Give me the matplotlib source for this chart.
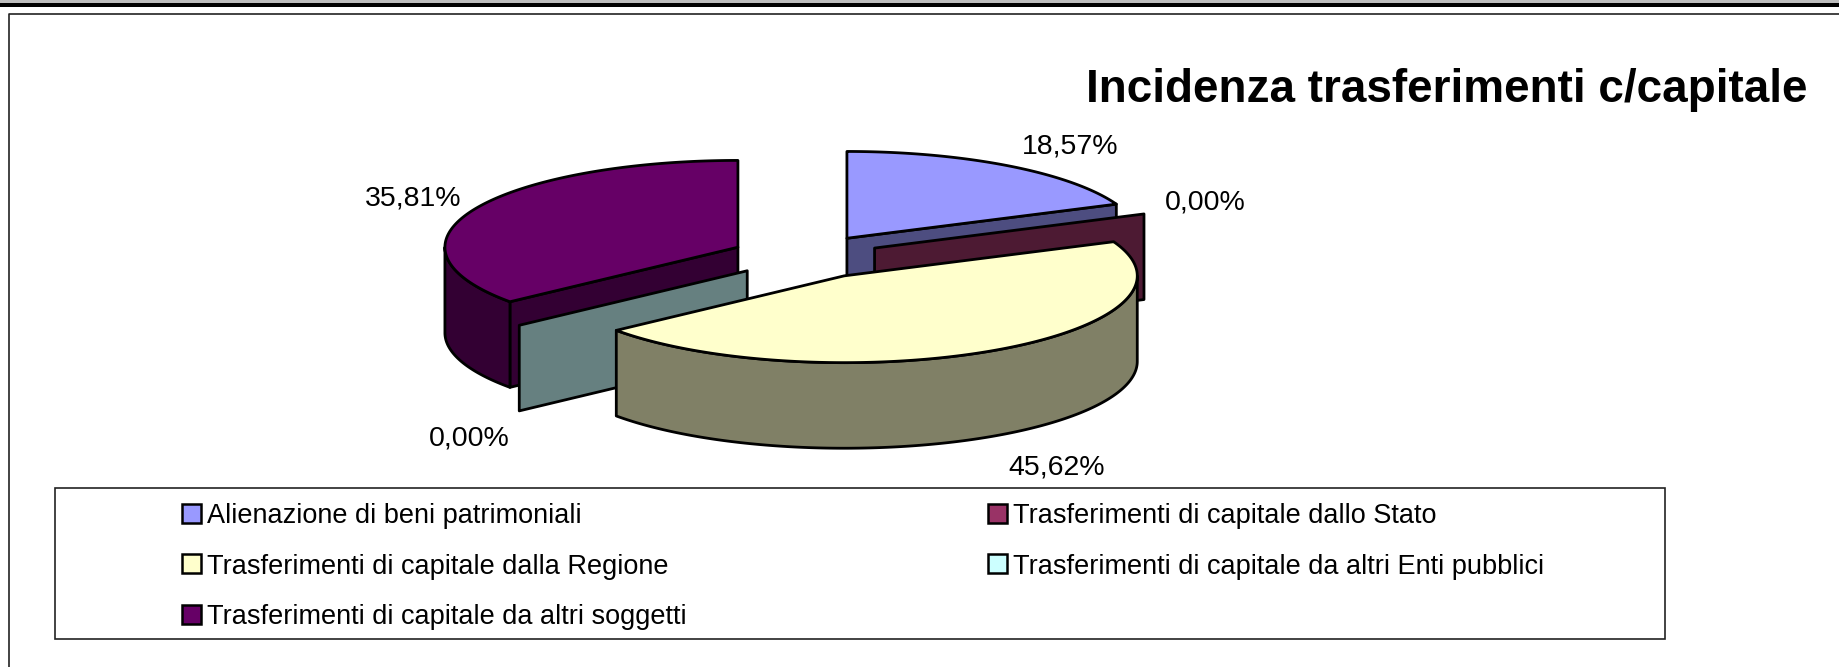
import numpy as np
import matplotlib
matplotlib.use('Agg')
import matplotlib.pyplot as plt
from matplotlib.patches import Polygon, Rectangle

plt.rcParams['font.family'] = ['Liberation Sans', 'DejaVu Sans']

# data
names = ['Alienazione di beni patrimoniali',
         'Trasferimenti di capitale dallo Stato',
         'Trasferimenti di capitale dalla Regione',
         'Trasferimenti di capitale da altri Enti pubblici',
         'Trasferimenti di capitale da altri soggetti']
values = [18.57, 0.00, 45.62, 0.00, 35.81]
pct_text = ['18,57%', '0,00%', '45,62%', '0,00%', '35,81%']
top_colors = ['#9999FF', '#993366', '#FFFFCC', '#CCFFFF', '#660066']
side_colors = ['#4D4D80', '#4D1A33', '#808066', '#668080', '#330033']
title = 'Incidenza trasferimenti c/capitale'

# pie geometry (pixels)
W, H = 1839, 667
CX, CY = 805.6, 256.8
RX, RY = 293.0, 86.8
DEPTH = 85.6
EXPLODE = 0.256
GAP = 18

fig = plt.figure(figsize=(W / 100, H / 100), dpi=100)
ax = fig.add_axes([0, 0, 1, 1])
ax.set_xlim(0, W)
ax.set_ylim(H, 0)
ax.axis('off')

# page border
ax.add_patch(Rectangle((0, 0), W, 3, fc='#BDBDBD', ec='none'))
ax.add_patch(Rectangle((0, 3), W, 4, fc='black', ec='none'))
ax.plot([9.5, 9.5, W], [H, 13.5, 13.5], color='#222222', lw=1.2)


def ell(th, k=1.0):
    return k * RX * np.cos(th), -k * RY * np.sin(th)


def poly(pts, fc, z):
    ax.add_patch(Polygon(pts, closed=True, fc=fc, ec='black', lw=2.0,
                         joinstyle='round', zorder=z))


total = sum(values)
slices = []
a = 90.0
for i, v in enumerate(values):
    span = 360.0 * v / total
    t2 = a
    t1 = a - span
    a = t1
    mid = np.radians((t1 + t2) / 2)
    ex, ey = ell(mid, EXPLODE) if span > 0 else ell(np.radians(t1), EXPLODE)
    slices.append((i, t1, t2, CX + ex, CY + ey))

z = 2
for i, t1, t2, vx, vy in sorted(slices, key=lambda s: s[4]):
    r1, r2 = np.radians(t1), np.radians(t2)
    if t2 - t1 < 1e-9:
        dx, dy = ell(r1)
        face = [(vx, vy), (vx + dx, vy + dy), (vx + dx, vy + dy + DEPTH), (vx, vy + DEPTH)]
        poly(face, side_colors[i], z)
        z += 1
    else:
        # radial cut faces
        for th, vis in ((r1, np.cos(r1) > 1e-6), (r2, np.cos(r2) < -1e-6)):
            if vis:
                dx, dy = ell(th)
                face = [(vx, vy), (vx + dx, vy + dy),
                        (vx + dx, vy + dy + DEPTH), (vx, vy + DEPTH)]
                poly(face, side_colors[i], z)
                z += 1
        # outer wall, front part only
        for k in range(-2, 2):
            lo = max(t1, k * 360 - 180)
            hi = min(t2, k * 360)
            if hi > lo:
                th = np.radians(np.linspace(lo, hi, 200))
                dx, dy = ell(th)
                up = np.column_stack([vx + dx, vy + dy])
                dn = np.column_stack([vx + dx, vy + dy + DEPTH])[::-1]
                poly(np.vstack([up, dn]), side_colors[i], z)
                z += 1
        # top face
        th = np.radians(np.linspace(t1, t2, 300))
        dx, dy = ell(th)
        pts = np.vstack([[vx, vy], np.column_stack([vx + dx, vy + dy])])
        poly(pts, top_colors[i], z)
        z += 1

    # percentage label
    m = (r1 + r2) / 2
    ux, uy = np.cos(m), -np.sin(m)
    dx, dy = ell(m)
    lx = vx + dx + GAP * ux + 4
    ly = vy + dy + GAP * uy + (DEPTH if uy > 0 else 0) + 3
    ha = 'left' if ux > 0.1 else ('right' if ux < -0.1 else 'center')
    va = 'top' if uy > 0 else 'baseline'
    ax.text(lx, ly, pct_text[i], ha=ha, va=va, fontsize=20.5, zorder=50)

# title
ax.text(1808, 101.5, title, ha='right', va='baseline', fontsize=33,
        fontweight='bold', zorder=50)

# legend
ax.add_patch(Rectangle((55, 488), 1610, 151, fc='white', ec='#222222',
                       lw=1.2, zorder=40))
row_y = [513, 563.5, 614]
col_x = [182, 988]
for j, name in enumerate(names):
    x0 = col_x[j % 2]
    y0 = row_y[j // 2]
    ax.add_patch(Rectangle((x0, y0 - 9.5), 19, 19, fc=top_colors[j],
                           ec='black', lw=1.8, zorder=41))
    ax.text(x0 + 25, y0, name, ha='left', va='center_baseline',
            fontsize=19.5, zorder=41)

fig.savefig('out.png', dpi=100)
